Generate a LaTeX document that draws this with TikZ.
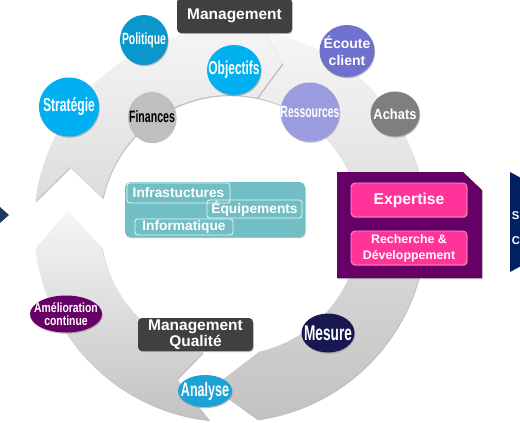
\documentclass[tikz,border=0pt]{standalone}
\usepackage{fontspec}
\setmainfont{Liberation Sans}
\newfontfamily\cnd[FakeStretch=0.64]{Liberation Sans}
\newfontfamily\semi[FakeStretch=0.88]{Liberation Sans}
\newfontfamily\amel[FakeStretch=0.78]{Liberation Sans}
\usetikzlibrary{shapes.geometric,shadows}
\definecolor{cyanB}{HTML}{00B0F0}
\definecolor{cyanD}{HTML}{0A98CC}
\definecolor{cyanA}{HTML}{1CA2D6}
\definecolor{grayF}{HTML}{BFBFBF}
\definecolor{grayA}{HTML}{7F7F7F}
\definecolor{blueE}{HTML}{7070CF}
\definecolor{blueR}{HTML}{9B9BDF}
\definecolor{navyM}{HTML}{17184F}
\definecolor{purpleE}{HTML}{660066}
\definecolor{pinkE}{HTML}{FF3399}
\definecolor{pinkL}{HTML}{FF9CCB}
\definecolor{darkG}{HTML}{404040}
\definecolor{tealB}{HTML}{71BFC4}
\definecolor{navyR}{HTML}{002060}
\definecolor{navyL}{HTML}{1F3864}
\definecolor{ringtop}{HTML}{F6F6F6}
\definecolor{ringbot}{HTML}{C2C2C2}
\definecolor{ringmid}{HTML}{DCDCDC}
\newcommand{\fsz}[2]{\fontsize{#1}{#2}\selectfont}
\begin{document}
\begin{tikzpicture}[x=0.75pt,y=-0.75pt,
  shd/.style={drop shadow={shadow xshift=0.5pt,shadow yshift=-0.9pt,opacity=0.5}},
  arrowring/.style={shd, top color=ringtop, bottom color=ringbot},
  bub/.style={ellipse, inner sep=0pt, shd},
  lw/.style={text=white, align=center, inner sep=0pt},
  box/.style={rounded corners=3pt, inner sep=0pt, align=center, text=white, shd},
  sub/.style={draw=white, draw opacity=0.85, line width=0.6pt, rounded corners=2pt, inner sep=0pt, text=white, font=\bfseries\fsz{10.3}{12}},
  edgetxt/.style={text=white, font=\bfseries\fsz{8.5}{10}, anchor=west, inner sep=0pt},
]
\useasboundingbox (0,0) rectangle (520,422);
\fill[white] (0,0) rectangle (520,422);

\begin{scope}[shift={(230,225)}]
  % arrow 2 (right, down to bottom)
  \path[arrowring] (-80:196) arc[start angle=-80,end angle=82,radius=196]
     -- (96:163) -- (77:130) arc[start angle=77,end angle=-78,radius=130]
     -- (-72:170) -- cycle;
  % arrow 3 (bottom-left, up)
  \path[arrowring] (96:196) arc[start angle=96,end angle=173,radius=196]
     -- (185:163) -- (170:130) arc[start angle=170,end angle=102,radius=130]
     -- (109:163) -- cycle;
  % arrow 1 (top-left)
  \path[arrowring, bottom color=ringmid] (-173:196) arc[start angle=-173,end angle=-80,radius=196]
     -- (-72:170) -- (-78:130) arc[start angle=-78,end angle=-168,radius=130]
     -- (-160:170) -- cycle;
\end{scope}

% side shapes
\fill[navyL] (0,207) -- (9,215) -- (0,223) -- cycle;
\fill[navyR] (510,172) -- (521,178) -- (521,266) -- (510,272) -- cycle;
\node[edgetxt] (sr) at (511.5,216) {S};
\node[edgetxt] (cr) at (511.5,241) {C};

% resources box
\node[box, fill=tealB, rounded corners=4pt, minimum width=135pt, minimum height=41.25pt] (res) at (215,209.5) {};
\node[sub, minimum width=77.25pt, minimum height=15pt] (infra) at (178.5,193) {Infrastuctures};
\node[sub, minimum width=71.25pt, minimum height=13.5pt] (equip) at (254.5,209) {Équipements};
\node[sub, minimum width=73.5pt, minimum height=12pt] (info) at (184,227) {Informatique};

% expertise box
\path[fill=purpleE, shd] (337,172) -- (463,172) -- (482,190) -- (482,278) -- (337,278) -- cycle;
\node[box, fill=pinkE, draw=pinkL, line width=0.6pt, minimum width=87pt, minimum height=25.5pt, font=\bfseries\fsz{11.8}{14}] (exp) at (409,200) {Expertise};
\node[box, fill=pinkE, draw=pinkL, line width=0.6pt, minimum width=87pt, minimum height=25.5pt, font=\bfseries\fsz{9.3}{12}] (rd) at (409,248) {Recherche \&\\Développement};

% dark boxes
\node[box, fill=darkG, minimum width=86.25pt, minimum height=26.25pt, font=\bfseries\fsz{11.6}{14}] (mgmt) at (234.5,15.5) {Management};
\node[box, fill=darkG, minimum width=86.25pt, minimum height=24.75pt, font=\bfseries\fsz{11.6}{11.6}] (mq) at (195.5,334.5) {Management\\Qualité};

% bubbles
\node[bub, fill=cyanD, minimum width=36pt, minimum height=37.5pt,
  label={[lw, font=\cnd\bfseries\fsz{12.2}{14}]center:Politique}] (pol) at (144,40) {};
\node[bub, fill=cyanB, minimum width=40.5pt, minimum height=37.5pt,
  label={[lw, font=\cnd\bfseries\fsz{14}{16}]center:Objectifs}] (obj) at (234,70) {};
\node[bub, fill=cyanB, minimum width=45pt, minimum height=44.25pt,
  label={[lw, font=\cnd\bfseries\fsz{14.2}{16}]center:Stratégie}] (strat) at (69,107) {};
\node[bub, fill=grayF, minimum width=36pt, minimum height=37.5pt,
  label={[lw, text=black, font=\cnd\bfseries\fsz{12.4}{14}]center:Finances}] (fin) at (152,117) {};
\node[bub, fill=blueE, minimum width=41.25pt, minimum height=39pt,
  label={[lw, font=\bfseries\fsz{10.5}{12.7}]center:{Écoute\\client}}] (ecoute) at (347,51) {};
\node[bub, fill=blueR, minimum width=44.25pt, minimum height=44.25pt,
  label={[lw, font=\cnd\bfseries\fsz{12.2}{14}]center:Ressources}] (ress) at (310,112) {};
\node[bub, fill=grayA, minimum width=36.75pt, minimum height=33.75pt,
  label={[lw, font=\semi\bfseries\fsz{11}{13}]center:Achats}] (achats) at (395,114) {};
\node[bub, fill=cyanA, minimum width=40.5pt, minimum height=24pt,
  label={[lw, font=\cnd\bfseries\fsz{14.7}{16}]center:Analyse}] (analyse) at (205,391) {};
\node[bub, fill=navyM, minimum width=39.75pt, minimum height=29.25pt,
  label={[lw, font=\cnd\bfseries\fsz{16}{18}]center:Mesure}] (mesure) at (328,333) {};
\node[bub, fill=purpleE, minimum width=54pt, minimum height=27.75pt,
  label={[lw, font=\amel\bfseries\fsz{10}{10}]center:{Amélioration\\continue}}] (amel) at (66,314) {};
\end{tikzpicture}
\end{document}
